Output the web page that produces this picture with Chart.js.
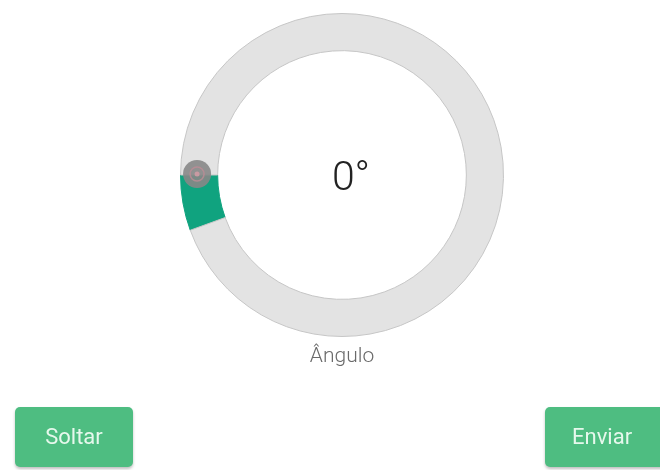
<!DOCTYPE html>
<html>
<head>
<meta charset="utf-8">
<script src="https://cdn.jsdelivr.net/npm/chart.js@4.4.0/dist/chart.umd.min.js"></script>
<style>
  html,body{margin:0;padding:0;background:#fff;}
  #wrap{position:relative;width:660px;height:470px;overflow:hidden;}
  canvas{position:absolute;left:0;top:0;}
  .btn{position:absolute;top:407px;height:60px;background:#4ebd81;color:#e6f8ec;border-radius:5px;
       font-family:Roboto,"Noto Sans",sans-serif;font-size:22px;line-height:60px;text-align:center;
       box-shadow:0 2px 3px rgba(0,0,0,0.25);}
</style>
</head>
<body>
<div id="wrap">
  <canvas id="c" width="660" height="470"></canvas>
  <div class="btn" style="left:15px;width:118px;">Soltar</div>
  <div class="btn" style="left:545px;width:126px;text-align:left;padding-left:27px;box-sizing:border-box;">Enviar</div>
</div>
<script>
const categories = ["Selecionado", "Restante"];
const values = [20, 340];
const angleLabel = "0°";
const axisLabel = "Ângulo";

const handlePlugin = {
  id: 'handle',
  afterDatasetsDraw(chart) {
    const ctx = chart.ctx;
    const arc = chart.getDatasetMeta(0).data[0];
    const a = arc.endAngle;
    const r = (arc.innerRadius + arc.outerRadius) / 2;
    const x = arc.x + Math.cos(a) * r - 2;
    const y = arc.y + Math.sin(a) * r - 1;
    ctx.save();
    ctx.beginPath(); ctx.arc(x, y, 14, 0, Math.PI * 2);
    ctx.fillStyle = 'rgba(135,135,135,0.9)'; ctx.fill();
    ctx.beginPath(); ctx.arc(x, y, 7, 0, Math.PI * 2);
    ctx.strokeStyle = 'rgba(190,140,150,0.8)'; ctx.lineWidth = 1.5; ctx.stroke();
    ctx.beginPath(); ctx.arc(x, y, 2.5, 0, Math.PI * 2);
    ctx.fillStyle = '#c99aa2'; ctx.fill();
    // center texts
    ctx.fillStyle = '#222';
    ctx.font = '300 41px Roboto, "Noto Sans", sans-serif';
    ctx.textAlign = 'center'; ctx.textBaseline = 'middle';
    ctx.fillText(angleLabel, arc.x + 9, arc.y + 5);
    ctx.fillStyle = '#6a6a6a';
    ctx.font = '300 21px Roboto, "Noto Sans", sans-serif';
    ctx.fillText(axisLabel, arc.x, arc.y + 182);
    ctx.restore();
  }
};

new Chart(document.getElementById('c'), {
  type: 'doughnut',
  data: {
    labels: categories,
    datasets: [{
      data: values,
      backgroundColor: ['#10a37f', '#e3e3e3'],
      borderColor: ['#10a37f', '#c6c6c6'],
      borderWidth: 1,
      hoverOffset: 0
    }]
  },
  options: {
    responsive: false,
    animation: false,
    rotation: 250,
    cutout: '77%',
    layout: { padding: { left: 180, right: 156, top: 13, bottom: 133 } },
    plugins: { legend: { display: false }, tooltip: { enabled: false } }
  },
  plugins: [handlePlugin]
});
</script>
</body>
</html>
